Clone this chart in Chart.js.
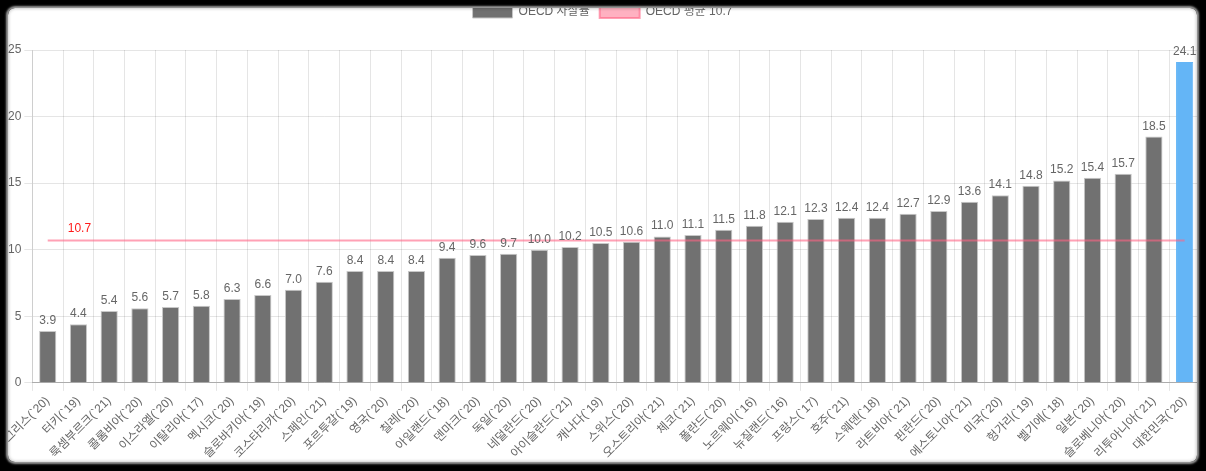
<!DOCTYPE html>
<html>
<head>
<meta charset="utf-8">
<script src="https://cdn.jsdelivr.net/npm/chart.js@4"></script>
<style>
html, body { margin: 0; padding: 0; background: #000; overflow: hidden; }
#wrap { position: relative; width: 1206px; height: 471px; background: #fff; overflow: hidden; }
#suicideChart { position: absolute; left: 0; top: -4px; }
#frame {
  position: absolute; left: 8px; top: 8px; width: 1189px; height: 454px;
  border-radius: 7px; pointer-events: none;
  box-shadow: 0 0 2px 2px rgba(170,170,170,0.9), 0 0 0 60px #000, inset 0 0 3px 1px rgba(0,0,0,0.2);
}
</style>
</head>
<body>
<div id="wrap">
  <canvas id="suicideChart" width="1206" height="475"></canvas>
  <div id="frame"></div>
</div>
<script>
var countries = ["그리스(`20)", "터키(`19)", "룩셈부르크(`21)", "콜롬비아(`20)", "이스라엘(`20)", "이탈리아(`17)",
  "멕시코(`20)", "슬로바키아(`19)", "코스타리카(`20)", "스페인(`21)", "포르투갈(`19)", "영국(`20)", "칠레(`20)",
  "아일랜드(`18)", "덴마크(`20)", "독일(`20)", "네덜란드(`20)", "아이슬란드(`21)", "캐나다(`19)", "스위스(`20)",
  "오스트리아(`21)", "체코(`21)", "폴란드(`20)", "노르웨이(`16)", "뉴질랜드(`16)", "프랑스(`17)", "호주(`21)",
  "스웨덴(`18)", "라트비아(`21)", "핀란드(`20)", "에스토니아(`21)", "미국(`20)", "헝가리(`19)", "벨기에(`18)",
  "일본(`20)", "슬로베니아(`20)", "리투아니아(`21)", "대한민국(`20)"];

var suicideRates = [3.9, 4.4, 5.4, 5.6, 5.7, 5.8, 6.3, 6.6, 7.0, 7.6, 8.4, 8.4, 8.4,
  9.4, 9.6, 9.7, 10.0, 10.2, 10.5, 10.6, 11.0, 11.1, 11.5, 11.8, 12.1, 12.3, 12.4,
  12.4, 12.7, 12.9, 13.6, 14.1, 14.8, 15.2, 15.4, 15.7, 18.5, 24.1];

var oecdAverage = 10.7;
var yTicks = [0, 5, 10, 15, 20, 25];

var fontFamily = "'Liberation Sans', Arial, 'Noto Sans CJK KR', sans-serif";
Chart.defaults.font.family = fontFamily;
Chart.defaults.font.size = 12;
Chart.defaults.color = '#666';

// last bar (Korea) is highlighted
var barColors = countries.map(function (c, i) {
  return i === countries.length - 1 ? '#64b5f6' : '#717171';
});
var barBorders = countries.map(function (c, i) {
  return i === countries.length - 1 ? '#64b5f6' : '#c8c8c8';
});

// value labels above the bars and the avg label on the line
var valueLabels = {
  id: 'valueLabels',
  afterDatasetsDraw: function (chart) {
    var ctx = chart.ctx;
    var bars = chart.getDatasetMeta(0).data;
    ctx.save();
    ctx.font = '12px ' + fontFamily;
    ctx.fillStyle = '#666';
    ctx.textAlign = 'center';
    ctx.textBaseline = 'alphabetic';
    for (var i = 0; i < bars.length; i++) {
      ctx.fillText(suicideRates[i].toFixed(1), bars[i].x, bars[i].y - 7);
    }
    var pts = chart.getDatasetMeta(1).data;
    ctx.fillStyle = '#ff1a1a';
    ctx.textAlign = 'left';
    ctx.fillText(oecdAverage.toFixed(1), pts[0].x + 20, pts[0].y - 8);
    ctx.restore();
  }
};

// more room under the legend
var legendSpace = {
  id: 'legendSpace',
  beforeInit: function (chart) {
    var fit = chart.legend.fit;
    chart.legend.fit = function () {
      fit.bind(chart.legend)();
      this.height += 22;
    };
  }
};

var suicideChart = new Chart(document.getElementById('suicideChart'), {
  type: 'bar',
  data: {
    labels: countries,
    datasets: [
      {
        label: 'OECD 자살률',
        data: suicideRates,
        backgroundColor: barColors,
        borderColor: barBorders,
        borderWidth: 1,
        categoryPercentage: 1,
        barPercentage: 0.56,
        order: 1
      },
      {
        type: 'line',
        label: 'OECD 평균 ' + oecdAverage,
        data: countries.map(function () { return oecdAverage; }),
        borderColor: 'rgba(255,99,132,0.6)',
        backgroundColor: 'rgba(255,99,132,0.5)',
        borderWidth: 2,
        pointRadius: 0,
        fill: false,
        order: 0
      }
    ]
  },
  options: {
    responsive: false,
    animation: false,
    layout: { padding: { left: 5, right: 6, top: 0, bottom: 7 } },
    plugins: {
      legend: {
        labels: {
          boxWidth: 40,
          sort: function (a, b) { return a.datasetIndex - b.datasetIndex; }
        }
      },
      tooltip: { enabled: false }
    },
    scales: {
      x: {
        ticks: { minRotation: 45, maxRotation: 45, autoSkip: false },
        grid: { color: 'rgba(0,0,0,0.1)' },
        border: { color: 'rgba(0,0,0,0.25)' },
        afterFit: function (scale) { scale.paddingLeft = 0; scale.paddingRight = 0; }
      },
      y: {
        min: yTicks[0],
        max: yTicks[yTicks.length - 1],
        ticks: { stepSize: yTicks[1] - yTicks[0] },
        grid: { color: 'rgba(0,0,0,0.1)' },
        border: { color: 'rgba(0,0,0,0.1)' }
      }
    }
  },
  plugins: [valueLabels, legendSpace]
});
</script>
</body>
</html>
